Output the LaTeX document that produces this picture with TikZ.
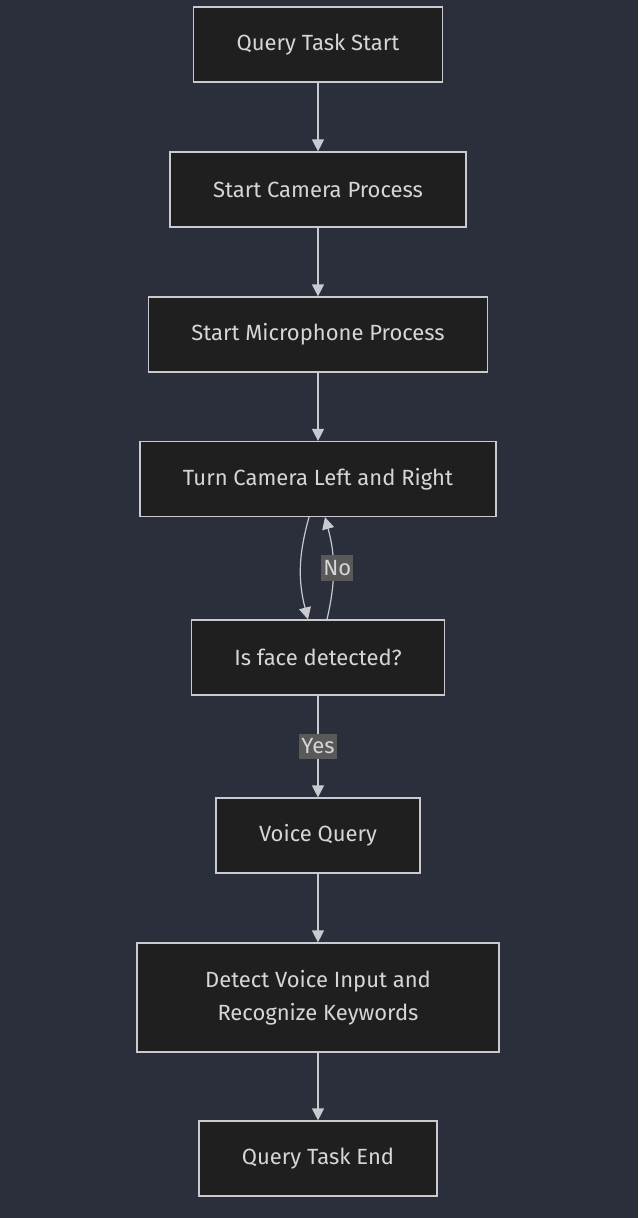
\documentclass[tikz,border=0pt]{standalone}
\usepackage{fontspec}
\setmainfont{Fira Sans}
\usetikzlibrary{arrows.meta}
\definecolor{bgc}{HTML}{2A2F3B}
\definecolor{boxc}{HTML}{1F1F1F}
\definecolor{linec}{HTML}{C8CAD0}
\definecolor{txtc}{HTML}{D6D6D6}
\definecolor{lblc}{HTML}{595959}
\tikzset{
  box/.style={draw=linec,fill=boxc,line width=1.2pt,text=txtc,align=center,
    inner xsep=43pt,minimum height=75pt,font=\fontsize{22}{33}\selectfont},
  edge/.style={draw=linec,line width=1.2pt,-{Triangle[length=12pt,width=12pt]}},
  lbl/.style={fill=lblc,text=txtc,inner xsep=2pt,inner ysep=5pt,font=\fontsize{22}{24}\selectfont}
}
\begin{document}
\begin{tikzpicture}[x=1pt,y=1pt]
\fill[bgc] (0,0) rectangle (638,-1218);
\foreach \n/\y/\t in {qstart/44.5/Query Task Start,cam/189.5/Start Camera Process,mic/334.5/Start Microphone Process,turn/479/Turn Camera Left and Right,face/657.5/Is face detected?,voice/835.5/Voice Query,end/1158.5/Query Task End}{ \node[box] (\n) at (318,-\y){\t};}
\node[box,minimum height=109pt,minimum width=362pt] (detect) at (318,-997.5){Detect Voice Input and\\ Recognize Keywords};

\foreach \a/\b in {qstart/cam,cam/mic,mic/turn,voice/detect,detect/end}{ \draw[edge] (\a) -- (\b);}
\draw[edge] (face) -- node[lbl]{Yes} (voice);
\draw[edge] ([xshift=-9pt]turn.south) to[bend right=15] ([xshift=-10pt]face.north);
\draw[edge] ([xshift=9pt]face.north) to[bend right=14] node[lbl,pos=0.5,xshift=4pt]{No} ([xshift=7pt]turn.south);
\end{tikzpicture}
\end{document}
